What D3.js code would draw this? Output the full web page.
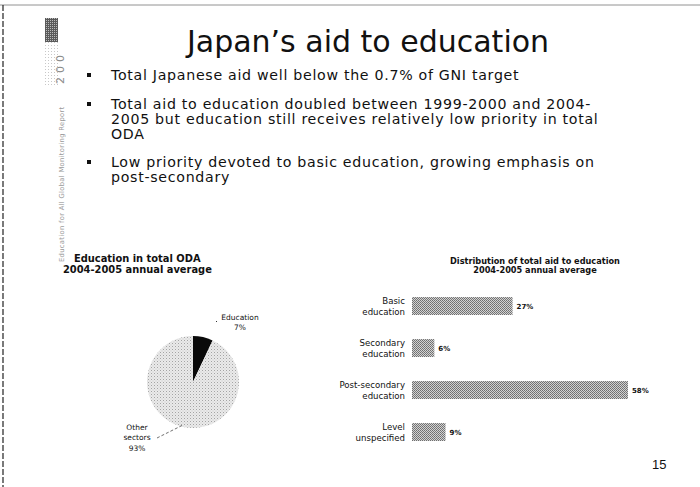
<!DOCTYPE html>
<html>
<head>
<meta charset="utf-8">
<script src="https://cdn.jsdelivr.net/npm/d3@7"></script>
<style>
  html, body { margin: 0; padding: 0; background: #fff; }
  svg { display: block; font-family: "DejaVu Sans", Verdana, sans-serif; }
</style>
</head>
<body>
<svg id="slide" width="700" height="487"></svg>
<script>
// Slide text
const slideTitle = "Japan\u2019s aid to education";
const bullets = [
  ["Total Japanese aid well below the 0.7% of GNI target"],
  ["Total aid to education doubled between 1999-2000 and 2004-",
   "2005 but education still receives relatively low priority in total",
   "ODA"],
  ["Low priority devoted to basic education, growing emphasis on",
   "post-secondary"]
];
const pageNumber = "15";

// Pie: education in total ODA
const pieTitle = ["Education in total ODA", "2004-2005 annual average"];
const pieCategories = ["Education", "Other sectors"];
const pieValues = [7, 93];

// Bars: distribution of aid to education
const barTitle = ["Distribution of total aid to education", "2004-2005 annual average"];
const barCategories = ["Basic education", "Secondary education", "Post-secondary education", "Level unspecified"];
const barLabelLines = [["Basic", "education"], ["Secondary", "education"], ["Post-secondary", "education"], ["Level", "unspecified"]];
const barValues = [27, 6, 58, 9];

const svg = d3.select("#slide");
const defs = svg.append("defs");

// stippled fills
const dots = defs.append("pattern").attr("id", "pieDots")
  .attr("width", 3).attr("height", 3).attr("patternUnits", "userSpaceOnUse");
dots.append("rect").attr("width", 3).attr("height", 3).attr("fill", "#eaeaea");
dots.append("rect").attr("width", 1).attr("height", 1).attr("fill", "#a4a4a4");
dots.append("rect").attr("x", 1.5).attr("y", 1.5).attr("width", 1).attr("height", 1).attr("fill", "#c6c6c6");

const check = defs.append("pattern").attr("id", "barCheck")
  .attr("width", 2).attr("height", 2).attr("patternUnits", "userSpaceOnUse");
check.append("rect").attr("width", 2).attr("height", 2).attr("fill", "#d2d2d2");
check.append("rect").attr("width", 1).attr("height", 1).attr("fill", "#6e6e6e");
check.append("rect").attr("x", 1).attr("y", 1).attr("width", 1).attr("height", 1).attr("fill", "#7a7a7a");

const logoDots = defs.append("pattern").attr("id", "logoDots")
  .attr("width", 2).attr("height", 2).attr("patternUnits", "userSpaceOnUse");
logoDots.append("rect").attr("width", 2).attr("height", 2).attr("fill", "#5a5a5a");
logoDots.append("rect").attr("width", 1).attr("height", 1).attr("fill", "#bbbbbb");

const lightDots = defs.append("pattern").attr("id", "lightDots")
  .attr("width", 3).attr("height", 3).attr("patternUnits", "userSpaceOnUse");
lightDots.append("rect").attr("width", 3).attr("height", 3).attr("fill", "#fff");
lightDots.append("rect").attr("width", 1).attr("height", 1).attr("fill", "#c8c8c8");

// slide frame
svg.append("line").attr("x1", 0).attr("x2", 700).attr("y1", 5).attr("y2", 5)
  .attr("stroke", "#777").attr("stroke-width", 0.8);
svg.append("line").attr("x1", 3).attr("x2", 3).attr("y1", 5).attr("y2", 487)
  .attr("stroke", "#222").attr("stroke-width", 1.2).attr("stroke-dasharray", "6,2");

// side logo strip
svg.append("rect").attr("x", 45).attr("y", 18).attr("width", 13).attr("height", 24).attr("fill", "url(#logoDots)");
svg.append("rect").attr("x", 45).attr("y", 42).attr("width", 14).attr("height", 45).attr("fill", "url(#lightDots)");
svg.append("text").attr("transform", "translate(64,84) rotate(-90)")
  .attr("font-size", 11).attr("fill", "#8a8a8a").attr("letter-spacing", 4).text("200");
svg.append("text").attr("transform", "translate(64,262) rotate(-90)")
  .attr("font-size", 6.8).attr("fill", "#9a9a9a").attr("letter-spacing", 0.3)
  .text("Education for All Global Monitoring Report");

// title
svg.append("text").attr("x", 368).attr("y", 52).attr("text-anchor", "middle")
  .attr("font-size", 30).attr("fill", "#111").text(slideTitle);

// bullets
const bulletTops = [80, 109, 167];
bullets.forEach((lines, i) => {
  svg.append("rect").attr("x", 87).attr("y", bulletTops[i] - 7).attr("width", 4).attr("height", 4).attr("fill", "#111");
  lines.forEach((ln, j) => {
    svg.append("text").attr("x", 111).attr("y", bulletTops[i] + j * 15)
      .attr("font-size", 14.2).attr("letter-spacing", 0.7).attr("fill", "#111").text(ln);
  });
});

// ---- pie chart ----
svg.append("g").selectAll("text").data(pieTitle).join("text")
  .attr("x", (d, i) => i === 0 ? 74 : 63).attr("y", (d, i) => 262 + i * 10.5)
  .attr("font-size", 9.9).attr("font-weight", "bold").attr("fill", "#111").text(d => d);

const pieCx = 193, pieCy = 382, pieR = 46;
const pie = d3.pie().sort(null).value(d => d)(pieValues);
const arc = d3.arc().innerRadius(0).outerRadius(pieR);
const pieG = svg.append("g").attr("transform", `translate(${pieCx},${pieCy})`);
pieG.selectAll("path").data(pie).join("path")
  .attr("d", arc)
  .attr("fill", (d, i) => i === 0 ? "#0a0a0a" : "url(#pieDots)");

// pie labels
const labelG = svg.append("g").attr("font-size", 7.5).attr("fill", "#111").attr("text-anchor", "middle");
labelG.append("text").attr("x", 240).attr("y", 320).text(pieCategories[0]);
labelG.append("text").attr("x", 240).attr("y", 329.5).text(pieValues[0] + "%");
labelG.append("text").attr("x", 137).attr("y", 430).text("Other");
labelG.append("text").attr("x", 137).attr("y", 440).text("sectors");
labelG.append("text").attr("x", 137).attr("y", 450.5).text(pieValues[1] + "%");
svg.append("line")
  .attr("x1", 157).attr("y1", 438)
  .attr("x2", 183).attr("y2", 425)
  .attr("stroke", "#333").attr("stroke-width", 0.7).attr("stroke-dasharray", "3,2");
svg.append("rect").attr("x", 216).attr("y", 321).attr("width", 1).attr("height", 1).attr("fill", "#333");

// ---- bar chart ----
svg.append("g").selectAll("text").data(barTitle).join("text")
  .attr("x", 535).attr("y", (d, i) => 264 + i * 9)
  .attr("text-anchor", "middle")
  .attr("font-size", 8.2).attr("font-weight", "bold").attr("fill", "#111").text(d => d);

const x = d3.scaleLinear().domain([0, 58]).range([412, 628]);
const y = d3.scalePoint().domain(barCategories).range([306, 432]);
const barH = 18;

const bars = svg.append("g");
bars.selectAll("rect").data(barValues).join("rect")
  .attr("x", x(0))
  .attr("y", (d, i) => y(barCategories[i]) - barH / 2)
  .attr("width", d => x(d) - x(0))
  .attr("height", barH)
  .attr("fill", "url(#barCheck)");

bars.selectAll("text.val").data(barValues).join("text")
  .attr("class", "val")
  .attr("x", d => x(d) + 4)
  .attr("y", (d, i) => y(barCategories[i]) + 3)
  .attr("font-size", 7).attr("font-weight", "bold").attr("fill", "#111")
  .text(d => d + "%");

const catG = bars.selectAll("g.cat").data(barLabelLines).join("g").attr("class", "cat");
catG.selectAll("text").data((d, i) => d.map((t, j) => ({ t, j, c: barCategories[i] }))).join("text")
  .attr("x", 405)
  .attr("y", d => y(d.c) - 2 + d.j * 11)
  .attr("text-anchor", "end")
  .attr("font-size", 8.6).attr("fill", "#111")
  .text(d => d.t);

// page number
svg.append("text").attr("x", 652).attr("y", 469).attr("font-family", "Liberation Sans, Arial, sans-serif")
  .attr("font-size", 13).attr("fill", "#111").text(pageNumber);
</script>
</body>
</html>
